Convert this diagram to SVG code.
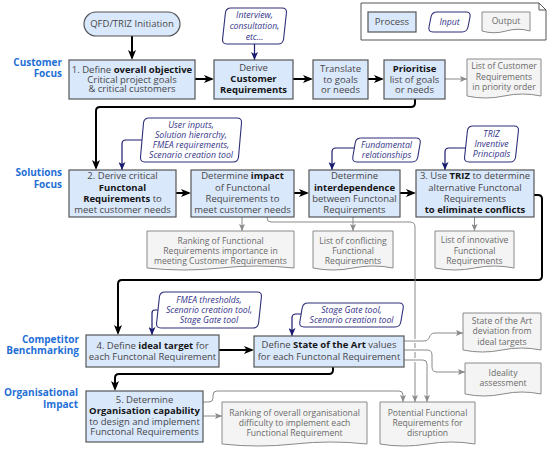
<svg xmlns="http://www.w3.org/2000/svg" width="550" height="452" viewBox="0 0 550 452">
<style>
.p{fill:#dae8fc;stroke:#555;stroke-width:1.2}
.in{fill:#fff;stroke:#2e2e7a;stroke-width:1.1}
.out{fill:#f4f4f4;stroke:#8a8a8a;stroke-width:1}
text{font-family:"Open Sans","DejaVu Sans",sans-serif}
.pt{font-size:9.5px;fill:#474747;text-anchor:middle}
.b{font-weight:bold;fill:#151515}
.it{font-size:8.7px;font-style:italic;fill:#34348a;text-anchor:middle}
.ot{font-size:8.6px;fill:#6a6a6a;text-anchor:middle}
.lb{font-size:10px;font-weight:bold;fill:#1f6fd6;text-anchor:end}
.cb{fill:none;stroke:#000;stroke-width:2;marker-end:url(#ab)}
.cn{fill:none;stroke:#1a1a6e;stroke-width:1.2;marker-end:url(#an)}
.cg{fill:none;stroke:#8a8a8a;stroke-width:1;marker-end:url(#ag)}
.gap{fill:none;stroke:#fff;stroke-width:4}
</style>
<defs>
<marker id="ab" viewBox="0 0 10 8" refX="8" refY="4" markerWidth="10" markerHeight="8" orient="auto" markerUnits="userSpaceOnUse"><path d="M0,0 L10,4 L0,8 L2.5,4 Z" fill="#000"/></marker>
<marker id="an" viewBox="0 0 8 7" refX="8" refY="3.5" markerWidth="8" markerHeight="7" orient="auto" markerUnits="userSpaceOnUse"><path d="M0,0 L8,3.5 L0,7 L2,3.5 Z" fill="#1a1a6e"/></marker>
<marker id="ag" viewBox="0 0 7 6" refX="7" refY="3" markerWidth="7" markerHeight="6" orient="auto" markerUnits="userSpaceOnUse"><path d="M0,0 L7,3 L0,6 L1.5,3 Z" fill="#8a8a8a"/></marker>
</defs>
<rect width="550" height="452" fill="#fff"/>

<g id="legend">
<path d="M361 3 H539 L546 10 V40 H361 Z" fill="#fff" stroke="#555" stroke-width="1"/>
<path d="M539 3 V10 H546" fill="none" stroke="#555" stroke-width="1"/>
<rect class="p" x="368" y="12" width="48" height="20"/>
<text class="pt" x="392" y="25.2">Process</text>
<path class="in" d="M437 12 H466 Q471 12 470 17 L468 27 Q467 32 462 32 H433 Q428 32 429 27 L431 17 Q432 12 437 12 Z"/>
<text class="it" x="449.5" y="25">Input</text>
<path class="out" d="M482 12 H530 V31 Q518 27.5 506 31 T482 31 Z"/>
<text class="ot" x="506" y="24">Output</text>
</g>

<g id="labels">
<text class="lb" x="62" y="65.6">Customer</text>
<text class="lb" x="62" y="77">Focus</text>
<text class="lb" x="62" y="176">Solutions</text>
<text class="lb" x="62" y="187.7">Focus</text>
<text class="lb" x="79" y="342.5">Competitor</text>
<text class="lb" x="79" y="354">Benchmarking</text>
<text class="lb" x="78" y="396">Organisational</text>
<text class="lb" x="78" y="407.5">Impact</text>
</g>

<g id="connectors">
<path class="cb" d="M132 36 V58"/>
<path class="cb" d="M195 79 H212"/>
<path class="cb" d="M293 79 H311"/>
<path class="cb" d="M368 79 H382"/>
<path class="cb" d="M415 99 V103 Q415 107 411 107 H100 Q96 107 96 111 V168"/>
<path class="cb" d="M176 193 H189"/>
<path class="cb" d="M294 193 H307"/>
<path class="cb" d="M400 193 H414"/>
<path class="cb" d="M534 195 H538 Q542 195 542 199 V276 Q542 280 538 280 H122 Q118 280 118 284 V333"/>
<path class="cb" d="M219 350 H252"/>
<path class="cb" d="M333 367 V370 Q333 374 329 374 H119 Q115 374 115 378 V389"/>

<path class="cn" d="M254.5 44 V60"/>
<path class="cn" d="M142 140 H126 Q122 140 122 144 V170"/>
<path class="cn" d="M354 148 H336 Q332 148 332 152 V170"/>
<path class="cn" d="M466 148 H449 Q445 148 445 152 V170"/>
<path class="cn" d="M158 310 H155 Q152 310 152 313 V335"/>
<path class="cn" d="M301 314 H296 Q292 314 292 318 V336"/>

<path class="cg" d="M445 79 H467"/>
<path class="cg" d="M242 217 V231"/>
<path class="cg" d="M353 217 V231"/>
<path class="cg" d="M474.5 217 V231"/>
<path class="cg" d="M267 217 V218 Q267 222 271 222 H410 Q415 222 415 227 V402"/>
<path class="gap" d="M404 341 H424 C431 341 428 333 435 333"/>
<path class="gap" d="M404 350 H426"/>
<path class="gap" d="M404 360 H423"/>
<path class="cg" d="M404 341 H424 C431 341 428 333 435 333 H463"/>
<path class="cg" d="M404 350 H427 Q432 350 432 355 V367 Q432 372 437 372 H465"/>
<path class="cg" d="M404 360 H423 Q427 360 427 364 V402"/>
<path class="cg" d="M203 416 H222"/>
<path class="cg" d="M203 402 H209 Q213 402 213 398 V395 Q213 391 217 391 H399 Q403 391 403 395 V402"/>
</g>

<g id="start">
<rect class="p" x="84" y="12" width="96" height="24" rx="12"/>
<text class="pt" x="132" y="27.4">QFD/TRIZ Initiation</text>
</g>

<g id="in-interview">
<path class="in" d="M231 8 H282 Q287 8 286.4 13 L283.6 39 Q283 44 278 44 H227 Q222 44 222.6 39 L225.4 13 Q226 8 231 8 Z"/>
<text class="it" x="254.5" y="18">Interview,</text>
<text class="it" x="254.5" y="29">consultation,</text>
<text class="it" x="254.5" y="40">etc...</text>
</g>

<g id="step1">
<rect class="p" x="69" y="60" width="126" height="39"/>
<text class="pt" x="132" y="72.5">1. Define <tspan class="b">overall objective</tspan></text>
<text class="pt" x="132" y="82.5">Critical project goals</text>
<text class="pt" x="132" y="92.2">&amp; critical customers</text>
</g>

<g id="derive">
<rect class="p" x="214" y="60" width="79" height="39"/>
<text class="pt" x="253.5" y="71">Derive</text>
<text class="pt b" x="253.5" y="82.3">Customer</text>
<text class="pt b" x="253.5" y="93.3">Requirements</text>
</g>

<g id="translate">
<rect class="p" x="313" y="60" width="55" height="39"/>
<text class="pt" x="340.5" y="71.6">Translate</text>
<text class="pt" x="340.5" y="82.6">to goals</text>
<text class="pt" x="340.5" y="93.3">or needs</text>
</g>

<g id="prioritise">
<rect class="p" x="384" y="60" width="61" height="39"/>
<text class="pt b" x="414.5" y="71.6">Prioritise</text>
<text class="pt" x="414.5" y="82.6">list of goals</text>
<text class="pt" x="414.5" y="93.3">or needs</text>
</g>

<g id="out-custreq">
<path class="out" d="M467 59 H541 V96 Q522.5 92 504 96 T467 96 Z"/>
<text class="ot" x="504" y="69">List of Customer</text>
<text class="ot" x="504" y="79.5">Requirements</text>
<text class="ot" x="504" y="90">in priority order</text>
</g>

<g id="in-user">
<path class="in" d="M149 118 H237 Q242 118 241.5 123 L238.5 157 Q238 162 233 162 H145 Q140 162 140.5 157 L143.5 123 Q144 118 149 118 Z"/>
<text class="it" x="191" y="128">User inputs,</text>
<text class="it" x="191" y="138">Solution hierarchy,</text>
<text class="it" x="191" y="148">FMEA requirements,</text>
<text class="it" x="191" y="158">Scenario creation tool</text>
</g>

<g id="step2">
<rect class="p" x="69" y="170" width="107" height="47"/>
<text class="pt" x="122.5" y="179.3">2. Derive critical</text>
<text class="pt b" x="122.5" y="190.6">Functonal</text>
<text class="pt" x="122.5" y="201.6"><tspan class="b">Requirements</tspan> to</text>
<text class="pt" x="122.5" y="212.6">meet customer needs</text>
</g>

<g id="impact">
<rect class="p" x="191" y="170" width="103" height="47"/>
<text class="pt" x="242.5" y="179.3">Determine <tspan class="b">impact</tspan></text>
<text class="pt" x="242.5" y="190.6">of Functonal</text>
<text class="pt" x="242.5" y="201.6">Requirements to</text>
<text class="pt" x="242.5" y="212.6">meet customer needs</text>
</g>

<g id="in-fundamental">
<path class="in" d="M361 138 H416 Q421 138 420.2 143 L417.8 157 Q417 162 412 162 H357 Q352 162 352.8 157 L355.2 143 Q356 138 361 138 Z"/>
<text class="it" x="386.5" y="148">Fundamental</text>
<text class="it" x="386.5" y="158">relationships</text>
</g>

<g id="interdependence">
<rect class="p" x="309" y="170" width="91" height="47"/>
<text class="pt" x="354.5" y="179.3">Determine</text>
<text class="pt b" x="354.5" y="190.6">interdependence</text>
<text class="pt" x="354.5" y="201.6">between Functonal</text>
<text class="pt" x="354.5" y="212.6">Requirements</text>
</g>

<g id="in-triz">
<path class="in" d="M473 126 H514 Q519 126 518.4 131 L515.6 157 Q515 162 510 162 H469 Q464 162 464.6 157 L467.4 131 Q468 126 473 126 Z"/>
<text class="it" x="491.5" y="137">TRIZ</text>
<text class="it" x="491.5" y="147">Inventive</text>
<text class="it" x="491.5" y="157">Principals</text>
</g>

<g id="step3">
<rect class="p" x="416" y="170" width="118" height="47"/>
<text class="pt" x="475" y="179.3">3. Use <tspan class="b">TRIZ</tspan> to determine</text>
<text class="pt" x="475" y="190.6">alternative Functonal</text>
<text class="pt" x="475" y="201.6">Requirements</text>
<text class="pt b" x="475" y="212.6">to eliminate conflicts</text>
</g>

<g id="out-ranking">
<path class="out" d="M147 231 H294 V268 Q257.25 264 220.5 268 T147 268 Z"/>
<text class="ot" x="220.5" y="244">Ranking of Functional</text>
<text class="ot" x="220.5" y="254">Requirements importance in</text>
<text class="ot" x="220.5" y="264">meeting Customer Requirements</text>
</g>

<g id="out-conflicting">
<path class="out" d="M313 231 H393 V268 Q373 264 353 268 T313 268 Z"/>
<text class="ot" x="353" y="244">List of conflicting</text>
<text class="ot" x="353" y="254">Functional</text>
<text class="ot" x="353" y="264">Requirements</text>
</g>

<g id="out-innovative">
<path class="out" d="M435 231 H514 V268 Q494.25 264 474.5 268 T435 268 Z"/>
<text class="ot" x="474.5" y="243">List of innovative</text>
<text class="ot" x="474.5" y="253.5">Functional</text>
<text class="ot" x="474.5" y="264">Requirements</text>
</g>

<g id="in-fmea">
<path class="in" d="M165 292 H257 Q262 292 261.4 297 L258.6 323 Q258 328 253 328 H161 Q156 328 156.6 323 L159.4 297 Q160 292 165 292 Z"/>
<text class="it" x="209" y="303">FMEA thresholds,</text>
<text class="it" x="209" y="313">Scenario creation tool,</text>
<text class="it" x="209" y="323">Stage Gate tool</text>
</g>

<g id="step4">
<rect class="p" x="86" y="335" width="133" height="32"/>
<text class="pt" x="152.5" y="348.5">4. Define <tspan class="b">ideal target</tspan> for</text>
<text class="pt" x="152.5" y="359.5">each Functonal Requirement</text>
</g>

<g id="in-stagegate">
<path class="in" d="M308 303 H399 Q404 303 403.2 308 L400.8 322 Q400 327 395 327 H304 Q299 327 299.8 322 L302.2 308 Q303 303 308 303 Z"/>
<text class="it" x="351.5" y="313">Stage Gate tool,</text>
<text class="it" x="351.5" y="323">Scenario creation tool</text>
</g>

<g id="sota">
<rect class="p" x="254" y="336" width="150" height="31"/>
<text class="pt" x="329" y="348">Define <tspan class="b">State of the Art</tspan> values</text>
<text class="pt" x="329" y="359.5">for each Functonal Requirement</text>
</g>

<g id="out-deviation">
<path class="out" d="M463 313 H541 V350 Q521.5 346 502 350 T463 350 Z"/>
<text class="ot" x="502" y="324">State of the Art</text>
<text class="ot" x="502" y="334.3">deviation from</text>
<text class="ot" x="502" y="344.5">ideal targets</text>
</g>

<g id="out-ideality">
<path class="out" d="M465 363 H541 V394 Q522 390 503 394 T465 394 Z"/>
<text class="ot" x="503" y="376">Ideality</text>
<text class="ot" x="503" y="386">assessment</text>
</g>

<g id="step5">
<rect class="p" x="86" y="391" width="117" height="51"/>
<text class="pt" x="144.5" y="402.6">5. Determine</text>
<text class="pt b" x="144.5" y="414">Organisation capability</text>
<text class="pt" x="144.5" y="424.5">to design and implement</text>
<text class="pt" x="144.5" y="435.2">Functonal Requirements</text>
</g>

<g id="out-orgranking">
<path class="out" d="M222 402 H367 V444 Q330.75 440 294.5 444 T222 444 Z"/>
<text class="ot" x="294.5" y="416">Ranking of overall organisational</text>
<text class="ot" x="294.5" y="426">difficulty to implement each</text>
<text class="ot" x="294.5" y="436">Functional Requirement</text>
</g>

<g id="out-potential">
<path class="out" d="M380 402 H475 V444 Q451.25 440 427.5 444 T380 444 Z"/>
<text class="ot" x="427.5" y="416">Potential Functional</text>
<text class="ot" x="427.5" y="426">Requirements for</text>
<text class="ot" x="427.5" y="436">disruption</text>
</g>
</svg>
